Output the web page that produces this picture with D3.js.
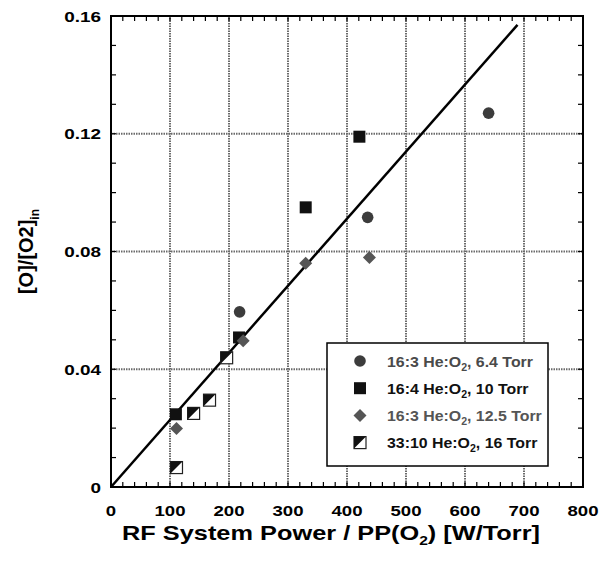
<!DOCTYPE html>
<html>
<head>
<meta charset="utf-8">
<script src="https://cdn.jsdelivr.net/npm/d3@7"></script>
<style>
  body { margin: 0; background: #fff; }
  svg { font-family: "Liberation Sans", Arial, sans-serif; font-weight: bold; }
</style>
</head>
<body>
<div id="chart"></div>
<script>
// data
const circles16_3 = [[218, 0.0595], [435, 0.0916], [640, 0.127]];
const squares16_4 = [[110, 0.0247], [217, 0.0508], [330, 0.095], [421, 0.119]];
const diamonds16_3 = [[111, 0.0199], [224, 0.0497], [330, 0.076], [438, 0.078]];
const halfSquares33_10 = [[111, 0.0066], [140, 0.025], [167, 0.0295], [196, 0.0439]];
const fitLine = [[0, 0], [689, 0.157]];
const xTicks = [0, 100, 200, 300, 400, 500, 600, 700, 800];
const yTicks = [0, 0.04, 0.08, 0.12, 0.16];
const legendLabels = [
  {text: "16:3 He:O", tail: ", 6.4 Torr", color: "#4a4a4a", sym: "circle"},
  {text: "16:4 He:O", tail: ", 10 Torr", color: "#111", sym: "square"},
  {text: "16:3 He:O", tail: ", 12.5 Torr", color: "#555", sym: "diamond"},
  {text: "33:10 He:O", tail: ", 16 Torr", color: "#111", sym: "half"}
];

const width = 603, height = 562;
const margin = {top: 16, left: 111, right: 20, bottom: 75};

const svg = d3.select("#chart").append("svg")
    .attr("width", width)
    .attr("height", height);

const x = d3.scaleLinear().domain([0, 800]).range([margin.left, width - margin.right]);
const y = d3.scaleLinear().domain([0, 0.16]).range([height - margin.bottom, margin.top]);

const x0 = x.range()[0], x1 = x.range()[1];
const y0 = y.range()[0], y1 = y.range()[1];

// text in the picture is drawn a little wider than the font
function wideText(parent, tx, ty, anchor, size, stretch) {
  return parent.append("g")
      .attr("transform", `translate(${tx},${ty}) scale(${stretch},1)`)
      .append("text")
      .attr("text-anchor", anchor)
      .attr("font-size", size);
}

// grid
const grid = svg.append("g").attr("stroke", "#6a6a6a").attr("stroke-width", 2).attr("stroke-dasharray", "1.5,1");
grid.selectAll(".gx").data(xTicks.slice(1, -1)).enter().append("line")
    .attr("x1", d => x(d)).attr("x2", d => x(d)).attr("y1", y0).attr("y2", y1);
grid.selectAll(".gy").data(yTicks.slice(1, -1)).enter().append("line")
    .attr("y1", d => y(d)).attr("y2", d => y(d)).attr("x1", x0).attr("x2", x1);

// minor ticks, inward on all sides
const xMinor = d3.range(0, 801, 20);
const yMinor = d3.range(0, 0.1601, 0.01);
const ticks = svg.append("g").attr("stroke", "#000").attr("stroke-width", 1.2);
xMinor.forEach(v => {
  ticks.append("line").attr("x1", x(v)).attr("x2", x(v)).attr("y1", y0).attr("y2", y0 - 5);
  ticks.append("line").attr("x1", x(v)).attr("x2", x(v)).attr("y1", y1).attr("y2", y1 + 5);
});
yMinor.forEach(v => {
  ticks.append("line").attr("y1", y(v)).attr("y2", y(v)).attr("x1", x0).attr("x2", x0 + 5);
  ticks.append("line").attr("y1", y(v)).attr("y2", y(v)).attr("x1", x1).attr("x2", x1 - 5);
});

// frame
svg.append("rect")
    .attr("x", x0).attr("y", y1).attr("width", x1 - x0).attr("height", y0 - y1)
    .attr("fill", "none").attr("stroke", "#000").attr("stroke-width", 2);

// tick labels
const xLab = svg.append("g");
xTicks.forEach(d => wideText(xLab, x(d), y0 + 29, "middle", 15.5, 1.2).text(d));
const yLab = svg.append("g");
yTicks.forEach(d => wideText(yLab, x0 - 10, y(d) + 5.5, "end", 15.5, 1.22).text(d === 0 ? "0" : d.toFixed(2)));

// axis titles
const xt = wideText(svg, 331, y0 + 53, "middle", 19.5, 1.3);
xt.append("tspan").text("RF System Power / PP(O");
xt.append("tspan").attr("font-size", 12).attr("dy", 5).text("2");
xt.append("tspan").attr("dy", -5).text(") [W/Torr]");

const yt = svg.append("g")
    .attr("transform", `translate(33, ${(y0 + y1) / 2}) rotate(-90)`)
    .append("text")
    .attr("text-anchor", "middle").attr("font-size", 20);
yt.append("tspan").text("[O]/[O2]");
yt.append("tspan").attr("font-size", 12).attr("dy", 6).text("in");

// fit line
svg.append("path")
    .datum(fitLine)
    .attr("d", d3.line().x(d => x(d[0])).y(d => y(d[1])))
    .attr("stroke", "#000").attr("stroke-width", 2.5).attr("fill", "none");

// marker drawers
function drawSymbol(g, kind, cx, cy) {
  if (kind === "circle") {
    g.append("circle").attr("cx", cx).attr("cy", cy).attr("r", 5.8).attr("fill", "#3c3c3c");
  } else if (kind === "square") {
    g.append("rect").attr("x", cx - 6).attr("y", cy - 6).attr("width", 12).attr("height", 12).attr("fill", "#111");
  } else if (kind === "diamond") {
    g.append("path").attr("d", `M${cx},${cy - 6.5}L${cx + 6.5},${cy}L${cx},${cy + 6.5}L${cx - 6.5},${cy}Z`).attr("fill", "#555");
  } else {
    g.append("rect").attr("x", cx - 6).attr("y", cy - 6).attr("width", 12).attr("height", 12)
        .attr("fill", "#fff").attr("stroke", "#222").attr("stroke-width", 1.2);
    g.append("path").attr("d", `M${cx - 6},${cy - 6}L${cx + 6},${cy - 6}L${cx - 6},${cy + 6}Z`).attr("fill", "#111");
  }
}

const marks = svg.append("g");
halfSquares33_10.forEach(d => drawSymbol(marks, "half", x(d[0]), y(d[1])));
circles16_3.forEach(d => drawSymbol(marks, "circle", x(d[0]), y(d[1])));
squares16_4.forEach(d => drawSymbol(marks, "square", x(d[0]), y(d[1])));
diamonds16_3.forEach(d => drawSymbol(marks, "diamond", x(d[0]), y(d[1])));

// legend
const lg = svg.append("g");
lg.append("rect").attr("x", 327).attr("y", 343).attr("width", 221).attr("height", 123)
    .attr("fill", "#fff").attr("stroke", "#000").attr("stroke-width", 1.5);
legendLabels.forEach((l, i) => {
  const cy = 361 + i * 27.2;
  drawSymbol(lg, l.sym, 360, cy);
  const t = wideText(lg, 387, cy + 5.5, "start", 15, 1.06).attr("fill", l.color);
  t.append("tspan").text(l.text);
  t.append("tspan").attr("font-size", 10).attr("dy", 4).text("2");
  t.append("tspan").attr("dy", -4).text(l.tail);
});
</script>
</body>
</html>
